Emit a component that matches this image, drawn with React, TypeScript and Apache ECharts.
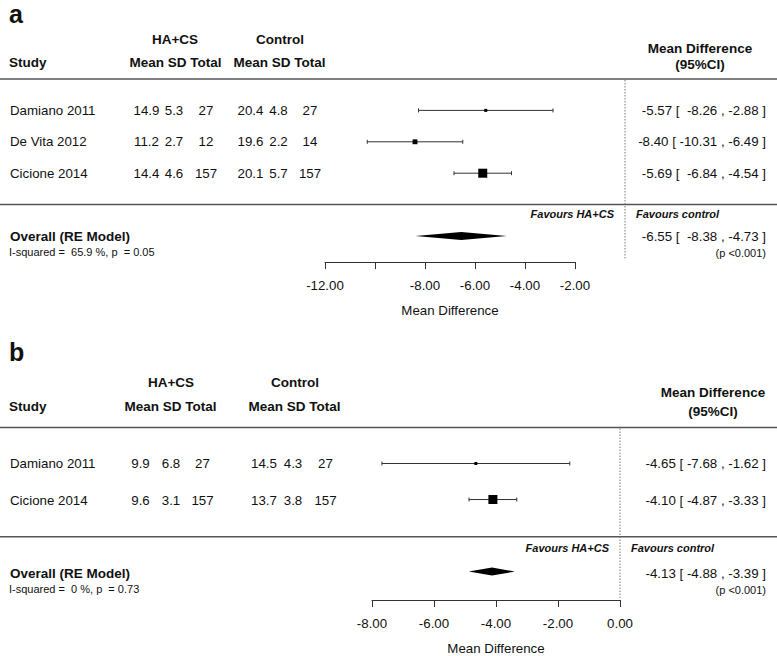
import React, { useEffect, useRef } from "react";
import * as echarts from "echarts";

// ---------- data: panel a ----------
const studiesA = ["Damiano 2011", "De Vita 2012", "Cicione 2014"];
const haMeanA = [14.9, 11.2, 14.4];
const haSdA = [5.3, 2.7, 4.6];
const haTotalA = [27, 12, 157];
const ctlMeanA = [20.4, 19.6, 20.1];
const ctlSdA = [4.8, 2.2, 5.7];
const ctlTotalA = [27, 14, 157];
const mdA = [-5.57, -8.4, -5.69];
const lowA = [-8.26, -10.31, -6.84];
const highA = [-2.88, -6.49, -4.54];
const overallA = [-6.55, -8.38, -4.73]; // estimate, lower, upper
const hetA = "I-squared =\u00A0 65.9 %, p\u00A0 = 0.05";
const pA = "(p <0.001)";
const tickValuesA = [-12, -10, -8, -6, -4, -2];
const labelValuesA = [-12, -8, -6, -4, -2];

// ---------- data: panel b ----------
const studiesB = ["Damiano 2011", "Cicione 2014"];
const haMeanB = [9.9, 9.6];
const haSdB = [6.8, 3.1];
const haTotalB = [27, 157];
const ctlMeanB = [14.5, 13.7];
const ctlSdB = [4.3, 3.8];
const ctlTotalB = [27, 157];
const mdB = [-4.65, -4.1];
const lowB = [-7.68, -4.87];
const highB = [-1.62, -3.33];
const overallB = [-4.13, -4.88, -3.39];
const hetB = "I-squared =\u00A0 0 %, p\u00A0 = 0.73";
const pB = "(p <0.001)";
const tickValuesB = [-8, -6, -4, -2, 0];
const labelValuesB = [-8, -6, -4, -2, 0];

const FF = '"Liberation Sans", Arial, Helvetica, sans-serif';
const TXT = "#111";

type Panel = {
  letter: string;
  letterY: number;
  top: number;
  step: number;
  axisRow: number;
  left: number;
  width: number;
  studies: string[];
  haMean: number[];
  haSd: number[];
  haTotal: number[];
  ctlMean: number[];
  ctlSd: number[];
  ctlTotal: number[];
  md: number[];
  low: number[];
  high: number[];
  overall: number[];
  het: string;
  p: string;
  ticks: number[];
  labels: number[];
  cols: number[];
  hdr: number[];
  groupY: number;
  subY: number;
  mdHdrX: number;
  mdHdrY: number;
  ciHdrY: number;
  favY: number;
};

const panels: Panel[] = [
  {
    letter: "a", letterY: 14, top: 79, step: 31.4, axisRow: 5.83, left: 325, width: 250,
    studies: studiesA, haMean: haMeanA, haSd: haSdA, haTotal: haTotalA,
    ctlMean: ctlMeanA, ctlSd: ctlSdA, ctlTotal: ctlTotalA,
    md: mdA, low: lowA, high: highA, overall: overallA, het: hetA, p: pA,
    ticks: tickValuesA, labels: labelValuesA,
    cols: [146.5, 174, 206, 250.5, 278.5, 310], hdr: [175, 280, 175.5, 279.5],
    groupY: 39, subY: 62, mdHdrX: 700, mdHdrY: 48, ciHdrY: 64.5, favY: 214,
  },
  {
    letter: "b", letterY: 352, top: 427.5, step: 36.4, axisRow: 4.79, left: 372, width: 248,
    studies: studiesB, haMean: haMeanB, haSd: haSdB, haTotal: haTotalB,
    ctlMean: ctlMeanB, ctlSd: ctlSdB, ctlTotal: ctlTotalB,
    md: mdB, low: lowB, high: highB, overall: overallB, het: hetB, p: pB,
    ticks: tickValuesB, labels: labelValuesB,
    cols: [140.5, 171, 202.5, 264, 293, 325.5], hdr: [171, 295, 170.5, 294.5],
    groupY: 382, subY: 406.5, mdHdrX: 713, mdHdrY: 392, ciHdrY: 411.5, favY: 548,
  },
];

const pad = (s: string, w: number) => (s.length >= w ? s : "\u00A0".repeat(w - s.length) + s);

function buildOption() {
  const grids: any[] = [];
  const xAxes: any[] = [];
  const yAxes: any[] = [];
  const series: any[] = [];
  const graphics: any[] = [];

  panels.forEach((P, pi) => {
    const n = P.studies.length;
    const rowY = (r: number) => P.top + r * P.step;
    const sepRow = n + 1;
    const ovRow = n + 2;
    const xmin = P.ticks[0];
    const xmax = P.ticks[P.ticks.length - 1];

    grids.push({ left: P.left, top: P.top, width: P.width, height: P.axisRow * P.step });
    xAxes.push({
      gridIndex: pi, type: "value", min: xmin, max: xmax, interval: 2, position: "bottom",
      splitLine: { show: false },
      axisLine: { show: true, onZero: false, lineStyle: { color: "#333", width: 1 } },
      axisTick: { show: true, inside: false, length: 7, lineStyle: { color: "#333", width: 1 } },
      axisLabel: {
        margin: 17, fontSize: 13.3, color: TXT, fontFamily: FF,
        formatter: (v: number) => (P.labels.indexOf(v) >= 0 ? v.toFixed(2) : ""),
      },
      name: "Mean Difference", nameLocation: "middle", nameGap: 42,
      nameTextStyle: { fontSize: 13.3, color: TXT, fontFamily: FF },
    });
    yAxes.push({ gridIndex: pi, type: "value", min: 0, max: P.axisRow, inverse: true, show: false });

    // weights from CI widths (inverse variance) -> square sizes
    const se = P.low.map((l, i) => (P.high[i] - l) / 3.92);
    const sw = se.map((s) => Math.sqrt(1 / (s * s)));
    const swMin = Math.min(...sw), swMax = Math.max(...sw);
    const studyData = P.md.map((m, i) => [
      m, P.low[i], P.high[i], i + 1,
      3 + 6 * (swMax > swMin ? (sw[i] - swMin) / (swMax - swMin) : 1),
    ]);

    series.push({
      type: "custom", xAxisIndex: pi, yAxisIndex: pi, clip: false, silent: true,
      data: studyData,
      renderItem: (params: any, api: any) => {
        const row = api.value(3);
        const c = api.coord([api.value(0), row]);
        const l = api.coord([api.value(1), row]);
        const u = api.coord([api.value(2), row]);
        const s = api.value(4);
        const ls = { stroke: "#333", lineWidth: 1 };
        return {
          type: "group",
          children: [
            { type: "line", shape: { x1: l[0], y1: l[1], x2: u[0], y2: u[1] }, style: ls },
            { type: "line", shape: { x1: l[0], y1: l[1] - 2, x2: l[0], y2: l[1] + 2 }, style: ls },
            { type: "line", shape: { x1: u[0], y1: u[1] - 2, x2: u[0], y2: u[1] + 2 }, style: ls },
            { type: "rect", shape: { x: c[0] - s / 2, y: c[1] - s / 2, width: s, height: s }, style: { fill: "#000" } },
          ],
        };
      },
    });

    series.push({
      type: "custom", xAxisIndex: pi, yAxisIndex: pi, clip: false, silent: true,
      data: [[P.overall[0], P.overall[1], P.overall[2], ovRow]],
      renderItem: (params: any, api: any) => {
        const row = api.value(3);
        const c = api.coord([api.value(0), row]);
        const l = api.coord([api.value(1), row]);
        const u = api.coord([api.value(2), row]);
        const h = 4;
        return {
          type: "polygon",
          shape: { points: [[l[0], l[1]], [c[0], c[1] - h], [u[0], u[1]], [c[0], c[1] + h]] },
          style: { fill: "#000" },
        };
      },
    });

    // reference line at zero
    series.push({
      type: "custom", xAxisIndex: pi, yAxisIndex: pi, clip: false, silent: true,
      data: [[0, 0, P.axisRow - 0.06]],
      renderItem: (params: any, api: any) => {
        const a = api.coord([api.value(0), api.value(1)]);
        const b = api.coord([api.value(0), api.value(2)]);
        return {
          type: "line",
          shape: { x1: a[0], y1: a[1] + 1, x2: b[0], y2: b[1] },
          style: { stroke: "#777", lineWidth: 1, lineDash: [1.5, 1.5] },
        };
      },
    });

    // rules
    [0, sepRow].forEach((r) => {
      graphics.push({
        type: "line", silent: true,
        shape: { x1: 0, y1: rowY(r), x2: 777, y2: rowY(r) },
        style: { stroke: "#555", lineWidth: 1.5 },
      });
    });

    const T = (text: string, x: number, y: number, font: string, align = "left") => {
      graphics.push({
        type: "text", silent: true, x, y,
        style: { text, font, fill: TXT, align, verticalAlign: "middle" },
      });
    };
    const F = `13.3px ${FF}`;
    const FB = `bold 13.5px ${FF}`;
    const FS = `11px ${FF}`;

    T(P.letter, 9, P.letterY, `bold 25px ${FF}`);
    T("HA+CS", P.hdr[0], P.groupY, FB, "center");
    T("Control", P.hdr[1], P.groupY, FB, "center");
    T("Study", 9, P.subY, FB);
    T("Mean SD Total", P.hdr[2], P.subY, FB, "center");
    T("Mean SD Total", P.hdr[3], P.subY, FB, "center");
    T("Mean Difference", P.mdHdrX, P.mdHdrY, FB, "center");
    T("(95%CI)", P.mdHdrX, P.ciHdrY, FB, "center");

    const estW = Math.max(...[...P.md, P.overall[0]].map((v) => v.toFixed(2).length));
    const lowW = Math.max(...[...P.low, P.overall[1]].map((v) => v.toFixed(2).length));
    const highW = Math.max(...[...P.high, P.overall[2]].map((v) => v.toFixed(2).length));
    const ciText = (e: number, l: number, h: number) =>
      `${pad(e.toFixed(2), estW)} [ ${pad(l.toFixed(2), lowW)} , ${pad(h.toFixed(2), highW)} ]`;

    P.studies.forEach((s, i) => {
      const y = rowY(i + 1);
      T(s, 10, y, F);
      T(P.haMean[i].toFixed(1), P.cols[0], y, F, "center");
      T(P.haSd[i].toFixed(1), P.cols[1], y, F, "center");
      T(String(P.haTotal[i]), P.cols[2], y, F, "center");
      T(P.ctlMean[i].toFixed(1), P.cols[3], y, F, "center");
      T(P.ctlSd[i].toFixed(1), P.cols[4], y, F, "center");
      T(String(P.ctlTotal[i]), P.cols[5], y, F, "center");
      T(ciText(P.md[i], P.low[i], P.high[i]), 766, y, F, "right");
    });

    const zeroX = P.left + (0 - xmin) * (P.width / (xmax - xmin));
    T("Favours HA+CS", zeroX - 11, P.favY, `italic bold 11px ${FF}`, "right");
    T("Favours control", zeroX + 11, P.favY, `italic bold 11px ${FF}`, "left");

    const oy = rowY(ovRow);
    T("Overall (RE Model)", 10, oy, FB);
    T(P.het, 9, oy + 15.5, FS);
    T(ciText(P.overall[0], P.overall[1], P.overall[2]), 766, oy, F, "right");
    T(P.p, 766, oy + 16.5, FS, "right");
  });

  return {
    animation: false,
    backgroundColor: "#fff",
    grid: grids,
    xAxis: xAxes,
    yAxis: yAxes,
    series,
    graphic: graphics,
  };
}

export default function App() {
  const ref = useRef<HTMLDivElement>(null);
  useEffect(() => {
    if (!ref.current) return;
    const chart = echarts.init(ref.current, undefined, { renderer: "svg" });
    chart.setOption(buildOption() as any);
    return () => chart.dispose();
  }, []);
  return (
    <div
      ref={ref}
      style={{ position: "fixed", left: 0, top: 0, width: 777, height: 656, background: "#fff" }}
    />
  );
}
